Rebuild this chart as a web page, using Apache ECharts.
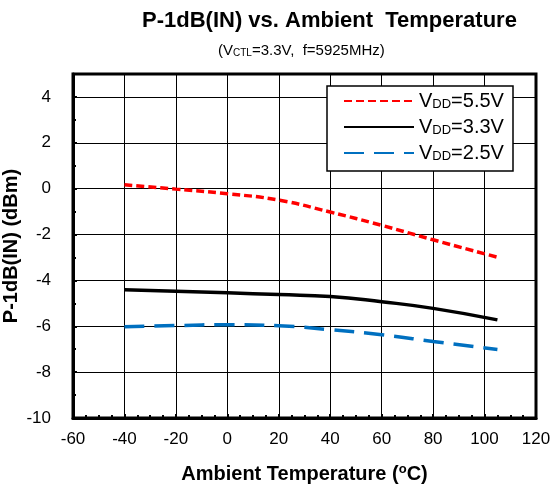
<!DOCTYPE html>
<html>
<head>
<meta charset="utf-8">
<script src="https://cdn.jsdelivr.net/npm/echarts@6/dist/echarts.min.js"></script>
<style>
  html, body { margin: 0; padding: 0; background: #fff; }
  #chart { width: 550px; height: 488px; }
</style>
</head>
<body>
<div id="chart"></div>
<script>
  // 温度 (x) と各 VDD の P-1dB(IN)
  const temps = [-40, -20, 0, 20, 40, 60, 80, 105]
  const vdd55 = [0.17, -0.02, -0.22, -0.5, -1.02, -1.6, -2.23, -2.99]
  const vdd33 = [-4.41, -4.47, -4.54, -4.62, -4.7, -4.93, -5.22, -5.72]
  const vdd25 = [-6.02, -5.97, -5.93, -5.98, -6.15, -6.37, -6.66, -7.01]
  const seriesNames = ['5.5', '3.3', '2.5']

  const font = 'Liberation Sans, Arial, sans-serif'
  const pair = (ys) => temps.map((t, i) => [t, ys[i]])

  const chart = echarts.init(document.getElementById('chart'))
  chart.setOption({
    animation: false,
    title: [
      {
        text: 'P-1dB(IN) vs. Ambient  Temperature',
        left: 137,
        top: 5,
        textStyle: { fontFamily: font, fontSize: 22, fontWeight: 'bold', color: '#000' }
      },
      {
        /** 測定条件 */
        text: '{t|(V}{s|CTL}{t|=3.3V,  f=5925MHz)}',
        left: 213,
        top: 37,
        textStyle: {
          fontWeight: 'normal',
          rich: {
            t: { fontFamily: font, fontSize: 15, fontWeight: 'normal', color: '#000', lineHeight: 18 },
            s: { fontFamily: font, fontSize: 10, fontWeight: 'normal', color: '#000', lineHeight: 18, padding: [5, 0, 0, 0] }
          }
        }
      }
    ],
    graphic: [{
      type: 'rect',
      z: 3,
      shape: { x: 327, y: 86, width: 186, height: 85 },
      style: { fill: '#fff', stroke: '#000', lineWidth: 1.5 }
    }],
    legend: {
      orient: 'vertical',
      left: 338,
      top: 86,
      itemWidth: 70,
      itemHeight: 14,
      itemGap: 6,
      data: seriesNames,
      itemStyle: { opacity: 0 },
      formatter: (n) => '{v|V}{s|DD}{v|=' + n + 'V}',
      textStyle: {
        rich: {
          v: { fontFamily: font, fontSize: 20, color: '#000', lineHeight: 22 },
          s: { fontFamily: font, fontSize: 13, color: '#000', lineHeight: 22, padding: [7, 0, 0, 0] }
        }
      }
    },
    grid: {
      left: 73, right: 14, top: 74, bottom: 70,
      outerBoundsMode: 'none',
      containLabel: false,
      show: true, borderColor: '#000', borderWidth: 3
    },
    xAxis: {
      type: 'value',
      min: -60, max: 120, interval: 20,
      name: '{b|Ambient Temperature (}{u|o}{b|C)}',
      nameLocation: 'middle',
      nameGap: 44,
      nameMoveOverlap: false,
      nameTextStyle: {
        rich: {
          b: { fontFamily: font, fontSize: 20, fontWeight: 'bold', color: '#000', lineHeight: 24 },
          u: { fontFamily: font, fontSize: 13, fontWeight: 'bold', color: '#000', lineHeight: 24, padding: [0, 0, 9, 0] }
        }
      },
      axisLine: { onZero: false, lineStyle: { color: '#000', width: 3 } },
      axisTick: { inside: true, length: 4, lineStyle: { color: '#000', width: 2 } },
      minorTick: { show: true, splitNumber: 4, length: 3, lineStyle: { color: '#000', width: 2 } },
      axisLabel: { fontFamily: font, fontSize: 17, color: '#000', margin: 13 },
      splitLine: { lineStyle: { color: '#000', width: 1 } }
    },
    yAxis: {
      type: 'value',
      min: -10, max: 5, interval: 2,
      name: 'P-1dB(IN) (dBm)',
      nameLocation: 'middle',
      nameGap: 52,
      nameMoveOverlap: false,
      nameTextStyle: { fontFamily: font, fontSize: 20, fontWeight: 'bold', color: '#000' },
      axisLine: { onZero: false, lineStyle: { color: '#000', width: 3 } },
      axisTick: { inside: true, length: 4, lineStyle: { color: '#000', width: 2 } },
      minorTick: { show: true, splitNumber: 2, length: 3, lineStyle: { color: '#000', width: 2 } },
      axisLabel: { fontFamily: font, fontSize: 17, color: '#000', margin: 22, showMaxLabel: false },
      splitLine: { lineStyle: { color: '#000', width: 1 } }
    },
    series: [
      {
        name: '5.5', type: 'line', smooth: true, symbol: 'none', z: 5,
        data: pair(vdd55),
        color: '#ff0000',
        lineStyle: { color: '#ff0000', width: 3.5, type: [8, 4] }
      },
      {
        name: '3.3', type: 'line', smooth: true, symbol: 'none', z: 5,
        data: pair(vdd33),
        color: '#000',
        lineStyle: { color: '#000', width: 3.5 }
      },
      {
        name: '2.5', type: 'line', smooth: true, symbol: 'none', z: 5,
        data: pair(vdd25),
        color: '#0070c0',
        lineStyle: { color: '#0070c0', width: 3.5, type: [20, 10] }
      }
    ]
  })
</script>
</body>
</html>
